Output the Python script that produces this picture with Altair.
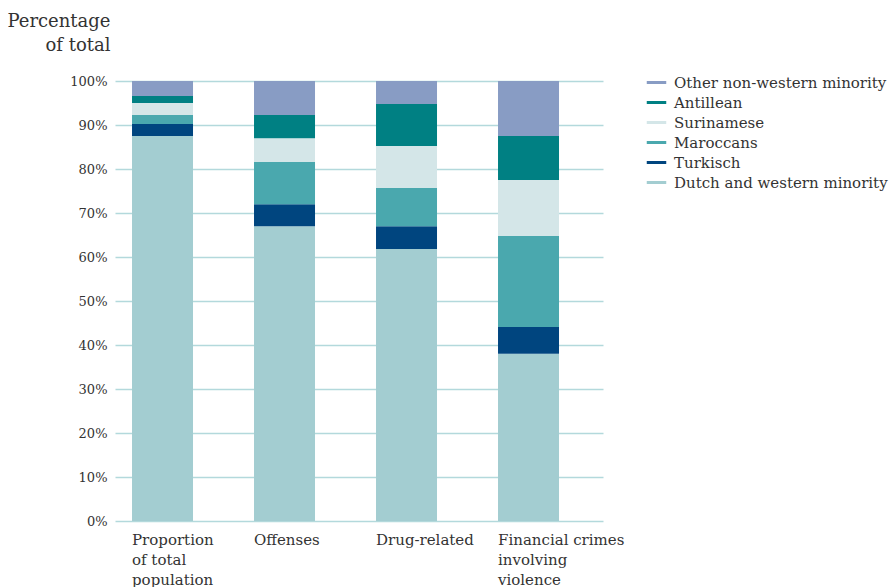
import altair as alt
import pandas as pd

categories = ["Proportion of total population", "Offenses", "Drug-related",
              "Financial crimes involving violence"]
groups = ["Dutch and western minority", "Turkisch", "Maroccans",
          "Surinamese", "Antillean", "Other non-western minority"]
colors = ["#a3cdd1", "#00457f", "#4aa8ae", "#d4e6e8", "#008083", "#889cc4"]

dutch = [87.5, 67.0, 61.8, 38.0]
turkisch = [2.7, 5.0, 5.2, 6.1]
maroccans = [2.1, 9.6, 8.7, 20.7]
surinamese = [2.7, 5.4, 9.5, 12.7]
antillean = [1.6, 5.3, 9.6, 10.0]
other = [3.4, 7.7, 5.2, 12.5]

series = [dutch, turkisch, maroccans, surinamese, antillean, other]
rows = []
for gi, (g, vals) in enumerate(zip(groups, series)):
    for c, v in zip(categories, vals):
        rows.append({"category": c, "group": g, "value": v, "order": gi})
df = pd.DataFrame(rows)

FONT = "DejaVu Serif"
TXT = "#333333"

label_expr = (
    "datum.value == 'Proportion of total population' ? ['Proportion', 'of total', 'population'] : "
    "datum.value == 'Financial crimes involving violence' ? ['Financial crimes', 'involving', 'violence'] : "
    "datum.value"
)

group_scale = alt.Scale(domain=groups[::-1], range=colors[::-1])
legend = alt.Legend(title=None, orient="none", legendX=530, legendY=-10,
                    symbolType="stroke", symbolStrokeWidth=3,
                    symbolSize=380, labelFont=FONT, labelFontSize=15,
                    labelColor=TXT, rowPadding=0, labelOffset=6,
                    labelLimit=300)

chart = alt.Chart(df).mark_bar(strokeWidth=0).encode(
    x=alt.X("category:N", sort=categories,
            scale=alt.Scale(paddingInner=0.5, paddingOuter=0.25, align=0.279),
            axis=alt.Axis(title=None, labelAngle=0, labelAlign="left", labelOffset=-30.5,
                          labelBaseline="top", labelPadding=11, labelLineHeight=20,
                          labelExpr=label_expr, domain=False, ticks=False,
                          labelFont=FONT, labelFontSize=15, labelColor=TXT,
                          labelLimit=300)),
    y=alt.Y("value:Q", stack="zero",
            scale=alt.Scale(domain=[0, 100], nice=False),
            axis=alt.Axis(title=["Percentage", "of total"], titleAngle=0, titleAlign="right",
                          titleBaseline="alphabetic", titleX=-5, titleY=-55,
                          titleLineHeight=24, titleFont=FONT, titleFontSize=18,
                          titleFontWeight="normal", titleColor=TXT,
                          values=list(range(0, 101, 10)),
                          labelExpr="datum.value + '%'", labelFont=FONT, labelFontSize=13,
                          labelColor=TXT, labelPadding=8, domain=False, ticks=False,
                          gridColor="#b3d9dc", gridWidth=1.5)),
    fill=alt.Fill("group:N", scale=group_scale, legend=legend),
    stroke=alt.Stroke("group:N", scale=group_scale, legend=legend),
    order=alt.Order("order:Q", sort="ascending"),
).properties(
    width=488, height=440,
    background="white",
    autosize=alt.AutoSizeParams(type="none"),
    padding={"left": 115, "top": 81, "right": 289, "bottom": 66},
).configure_view(stroke=None, strokeWidth=0)

chart.save("out.html", embed_options={"renderer": "svg", "actions": False})
